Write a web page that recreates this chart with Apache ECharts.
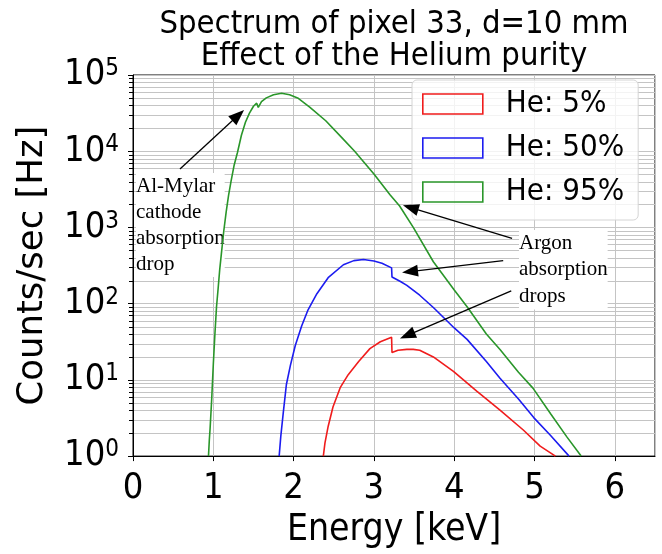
<!DOCTYPE html>
<html>
<head>
<meta charset="utf-8">
<script src="https://cdn.jsdelivr.net/npm/echarts@6/dist/echarts.min.js"></script>
<style>
html, body { margin: 0; padding: 0; background: #fff; }
#chart { width: 662px; height: 554px; }
</style>
</head>
<body>
<div id="chart"></div>
<script>
// spectrum of pixel 33, energies in keV, rates in counts/sec
var greenEnergy = [0.94, 0.95, 0.96, 0.98, 1.00, 1.02, 1.04, 1.06, 1.08, 1.10, 1.13, 1.16, 1.19, 1.22, 1.26, 1.30,
	1.35, 1.40, 1.45, 1.50, 1.54, 1.56, 1.60, 1.66, 1.75, 1.85, 1.95, 2.05, 2.20, 2.40, 2.60, 2.76,
	3.00, 3.20, 3.32, 3.49, 3.74, 4.00, 4.16, 4.40, 4.57, 4.80, 4.98, 5.20, 5.40, 5.58];
var greenCounts = [1, 1.6, 2.3, 5.6, 16, 40, 91, 158, 282, 447, 891, 1585, 2630, 3980, 6610, 9550,
	16200, 24000, 31600, 38900, 42700, 37600, 44700, 50100, 55000, 57500, 55000, 50100, 38000, 25100, 15100, 10000,
	5010, 2690, 1910, 1000, 355, 151, 91, 40, 25, 12.6, 7.8, 3.6, 1.8, 1];

var blueEnergy = [1.82, 1.84, 1.87, 1.91, 1.96, 2.02, 2.10, 2.18, 2.29, 2.43, 2.62, 2.75, 2.87, 3.00, 3.10, 3.22,
	3.225, 3.33, 3.41, 3.57, 3.74, 4.00, 4.16, 4.40, 4.57, 4.80, 4.99, 5.20, 5.43];
var blueCounts = [1, 1.8, 3.6, 8.7, 15.5, 28, 51, 83, 135, 219, 324, 367, 380, 363, 339, 295,
	224, 195, 174, 129, 89, 48, 34, 17.4, 10.5, 5.6, 3.2, 1.86, 1];

var redEnergy = [2.37, 2.39, 2.43, 2.49, 2.58, 2.68, 2.81, 2.95, 3.08, 3.22, 3.225, 3.30, 3.41, 3.49, 3.57, 3.74,
	3.99, 4.28, 4.57, 4.86, 5.07, 5.26];
var redCounts = [1, 1.48, 2.45, 4.4, 7.9, 11.7, 17.4, 25.7, 31.6, 36.3, 22.9, 24.5, 25.1, 25.1, 24.5, 20,
	12.9, 7.1, 4.0, 2.2, 1.35, 1];

var seriesNames = ['He: 5%', 'He: 50%', 'He: 95%'];
var seriesColors = ['#f01c1c', '#1c1cf0', '#2a962a'];

// log minor ticks
var minorSteps = [2, 3, 4, 5, 6, 7, 8, 9];
var decades = [1, 10, 100, 1000, 10000];

// arrows: [from energy, from counts, to energy, to counts]
var arrows = [
	[0.585, 5850, 1.310, 29560],
	[4.72, 719, 3.457, 1820],
	[4.61, 366, 3.449, 264],
	[4.71, 147, 3.416, 38.4]
];

var sansFont = "'DejaVu Sans Condensed', 'DejaVu Sans', sans-serif";
var serifFont = "'Liberation Serif', 'DejaVu Serif', serif";

function pairs(e, c){
	var out = [];
	for(var i=0; i<e.length; i++){
		out.push([e[i], c[i]]);
	}
	return out;
}

var minorVals = [];
for(var d=0; d<decades.length; d++){
	for(var m=0; m<minorSteps.length; m++){
		minorVals.push([0, decades[d]*minorSteps[m]]);
	}
}

var arrowLines = [];
for(var a=0; a<arrows.length; a++){
	arrowLines.push([
		{coord: [arrows[a][0], arrows[a][1]], symbol: 'none'},
		{coord: [arrows[a][2], arrows[a][3]], symbol: 'triangle', symbolSize: [12, 16]}
	]);
}

var curveData = [pairs(redEnergy, redCounts), pairs(blueEnergy, blueCounts), pairs(greenEnergy, greenCounts)];

var series = [];
// minor grid lines + minor ticks of the log axis
series.push({
	type: 'custom',
	data: minorVals,
	z: 0,
	silent: true,
	clip: false,
	animation: false,
	renderItem: function(params, api){
		var y = api.value(1);
		var p0 = api.coord([0, y]);
		var p1 = api.coord([6.5, y]);
		var py = Math.round(p0[1]) + 0.5;
		return {
			type: 'group',
			children: [
				{type: 'line', shape: {x1: p0[0], y1: py, x2: p1[0], y2: py}, style: {stroke: '#c4c4c4', lineWidth: 1}},
				{type: 'line', shape: {x1: p0[0]-4, y1: py, x2: p0[0], y2: py}, style: {stroke: '#000', lineWidth: 1}}
			]
		};
	}
});
for(var s=0; s<3; s++){
	series.push({
		name: seriesNames[s],
		type: 'line',
		data: curveData[s],
		showSymbol: false,
		symbol: 'none',
		z: 2,
		lineStyle: {color: seriesColors[s], width: 1.6},
		itemStyle: {color: seriesColors[s]},
		animation: false
	});
}
// annotation arrows
series.push({
	type: 'line', data: [], z: 5, silent: true,
	markLine: {
		silent: true, animation: false,
		symbol: ['none', 'triangle'],
		symbolSize: 14,
		label: {show: false},
		lineStyle: {color: '#000', width: 1.3, type: 'solid'},
		itemStyle: {color: '#000'},
		emphasis: {disabled: true},
		data: arrowLines
	}
});

var chart = echarts.init(document.getElementById('chart'));
var option = {
	backgroundColor: '#fff',
	animation: false,
	title: {
		text: 'Spectrum of pixel 33, d=10 mm\nEffect of the Helium purity',
		left: 394,
		textAlign: 'center',
		top: 0,
		padding: [9, 0, 0, 0],
		textStyle: {fontSize: 32.5, fontWeight: 'normal', lineHeight: 32, color: '#000', fontFamily: sansFont}
	},
	legend: {
		orient: 'vertical',
		left: 412,
		top: 80,
		padding: [6, 14, 10, 10],
		itemWidth: 60,
		itemHeight: 20,
		itemGap: 8,
		icon: 'rect',
		backgroundColor: 'rgba(255,255,255,0.8)',
		borderColor: '#d4d4d4',
		borderWidth: 1,
		borderRadius: 5,
		textStyle: {fontSize: 31, lineHeight: 36, color: '#000', fontFamily: sansFont, padding: [0, 0, 0, 18]},
		data: seriesNames.map(function(n, i){
			return {name: n, itemStyle: {color: 'rgba(0,0,0,0)', borderColor: seriesColors[i], borderWidth: 1.6}};
		})
	},
	grid: {
		left: 133, right: 7, top: 75, bottom: 87,
		show: true, borderColor: '#000', borderWidth: 1
	},
	xAxis: {
		type: 'value',
		min: 0, max: 6.5, interval: 1,
		name: 'Energy [keV]',
		nameLocation: 'middle',
		nameGap: 53,
		nameTextStyle: {fontSize: 37, color: '#000', fontFamily: sansFont},
		axisLine: {lineStyle: {color: '#000', width: 1}},
		axisTick: {length: 5, lineStyle: {color: '#000'}},
		splitLine: {show: true, lineStyle: {color: '#c4c4c4', width: 1}},
		axisLabel: {
			fontSize: 36, color: '#000', fontFamily: sansFont, margin: 15,
			showMaxLabel: false,
			formatter: function(v){ return v % 1 === 0 ? String(v) : ''; }
		}
	},
	yAxis: {
		type: 'log',
		logBase: 10,
		min: 1, max: 100000,
		name: 'Counts/sec [Hz]',
		nameLocation: 'middle',
		nameGap: 82,
		nameTextStyle: {fontSize: 35.5, color: '#000', fontFamily: "'DejaVu Sans', sans-serif"},
		axisLine: {show: true, lineStyle: {color: '#000', width: 1}},
		axisTick: {show: true, length: 5, lineStyle: {color: '#000'}},
		splitLine: {show: true, lineStyle: {color: '#c4c4c4', width: 1}},
		axisLabel: {
			margin: 14,
			formatter: function(v){
				return '{b|10}{s|' + Math.round(Math.log10(v)) + '}';
			},
			rich: {
				b: {fontSize: 36, color: '#000', fontFamily: sansFont},
				s: {fontSize: 24, color: '#000', fontFamily: sansFont, verticalAlign: 'top'}
			}
		}
	},
	graphic: [
		{
			type: 'text', left: 136, top: 173, z: 1,
			style: {
				text: 'Al-Mylar\ncathode\nabsorption\ndrop',
				fontSize: 21, fontFamily: serifFont, lineHeight: 26,
				fill: '#000', backgroundColor: '#fff'
			}
		},
		{
			type: 'text', left: 519, top: 230, z: 1,
			style: {
				text: 'Argon\nabsorption\ndrops',
				fontSize: 21, fontFamily: serifFont, lineHeight: 26.5,
				fill: '#000', backgroundColor: '#fff'
			}
		}
	],
	series: series
};
chart.setOption(option);
window.addEventListener("resize", function(){
	chart.resize();
});
</script>
</body>
</html>
